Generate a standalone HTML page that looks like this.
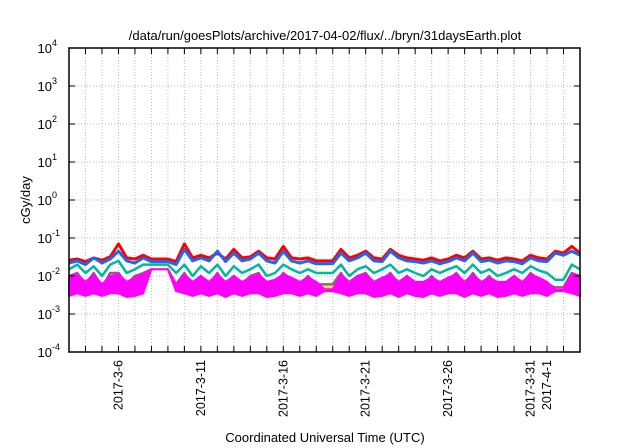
<!DOCTYPE html>
<html><head><meta charset="utf-8"><style>
html,body{margin:0;padding:0;background:#fff;}
svg{display:block;font-family:"Liberation Sans",sans-serif;}
</style></head><body>
<svg id="chart" width="640" height="448" viewBox="0 0 640 448" xmlns="http://www.w3.org/2000/svg">
<text x="325" y="40" font-size="13" text-anchor="middle">/data/run/goesPlots/archive/2017-04-02/flux/../bryn/31daysEarth.plot</text>
<text transform="translate(30,200) rotate(-90)" font-size="13" text-anchor="middle">cGy/day</text>
<text x="325" y="442" font-size="13" text-anchor="middle">Coordinated Universal Time (UTC)</text>
<g id="grid"></g><g id="series"></g><g id="axes"></g>
</svg>
<script>
const dateLabels=["2017-3-6","2017-3-11","2017-3-16","2017-3-21","2017-3-26","2017-3-31","2017-4-1"];
const dateDays=[3,8,13,18,23,28,29];
const decadeExps=[-4,-3,-2,-1,0,1,2,3,4];
const red=[.026,.028,.024,.03,.026,.032,.07,.03,.028,
.035,.028,.028,.028,.024,.07,.03,.035,.03,
.04,.028,.05,.03,.032,.045,.03,.028,.06,
.03,.028,.03,.025,.025,.025,.05,.03,.035,
.045,.03,.028,.05,.035,.03,.028,.026,.03,
.025,.028,.035,.03,.045,.028,.03,.026,.03,
.028,.025,.035,.03,.028,.045,.04,.06,.04];
const blue=[.022,.025,.02,.03,.022,.028,.045,.025,.022,
.03,.024,.024,.024,.02,.05,.025,.03,.025,
.045,.024,.04,.025,.028,.04,.025,.022,.045,
.025,.022,.025,.021,.021,.021,.04,.025,.03,
.04,.025,.024,.045,.03,.025,.024,.022,.025,
.021,.024,.03,.025,.04,.024,.026,.022,.025,
.024,.021,.03,.025,.024,.04,.035,.045,.035];
const teal=[.015,.02,.012,.018,.01,.02,.025,.012,.015,
.02,.02,.02,.02,.012,.02,.01,.018,.012,
.02,.01,.018,.012,.015,.02,.01,.012,.02,
.015,.012,.015,.012,.012,.012,.02,.01,.015,
.018,.012,.015,.02,.012,.015,.012,.01,.015,
.012,.015,.018,.012,.02,.012,.015,.01,.012,
.015,.012,.018,.014,.012,.008,.008,.02,.015];
const gray=[.01,.012,.006,.012,.005,.012,.012,.006,.01,
.012,.015,.015,.015,.006,.012,.005,.01,.006,
.012,.005,.01,.006,.01,.012,.005,.006,.012,
.008,.006,.01,.006,.006,.006,.012,.005,.01,
.012,.006,.008,.012,.006,.01,.006,.005,.01,
.006,.008,.012,.006,.012,.006,.01,.005,.006,
.01,.006,.012,.008,.006,.005,.005,.012,.01];
const yellow=[.006,.008,.005,.007,.0045,.008,.007,.005,.006,
.008,.015,.015,.015,.0045,.008,.0045,.006,.005,
.008,.0045,.006,.005,.006,.008,.0045,.005,.008,
.006,.005,.006,.005,.005,.005,.008,.0045,.006,
.008,.005,.006,.008,.005,.006,.005,.0045,.006,
.005,.006,.008,.005,.008,.005,.006,.0045,.005,
.006,.005,.008,.006,.005,.0045,.0045,.008,.006];
const magHigh=[.009,.011,.007,.011,.006,.01,.011,.007,.009,
.011,.015,.015,.015,.006,.011,.007,.01,.007,
.011,.007,.01,.007,.009,.011,.007,.008,.011,
.009,.007,.009,.007,.0045,.0045,.011,.007,.01,
.011,.007,.009,.011,.007,.01,.007,.007,.009,
.007,.009,.011,.007,.011,.007,.009,.007,.007,
.01,.007,.011,.009,.007,.0045,.0045,.011,.01];
const magLow=[.003,.0035,.003,.0035,.003,.0035,.0035,.0028,.003,
.0035,.015,.015,.015,.004,.0035,.003,.0035,.003,
.0035,.0028,.0035,.003,.0035,.0035,.0028,.003,.0035,
.0035,.003,.0035,.003,.004,.004,.0035,.003,.0035,
.0035,.0028,.003,.0035,.0028,.0035,.003,.0028,.0035,
.003,.0035,.0035,.0028,.0035,.003,.0035,.0028,.003,
.0035,.003,.0035,.0035,.003,.004,.004,.0035,.003];
const NS="http://www.w3.org/2000/svg";
const L=69,R=580,T=48,B=352,TOTAL_DAYS=31;
function xScale(d){return L+d*(R-L)/TOTAL_DAYS;}
function yScale(v){return T+(4-Math.log10(v))*(B-T)/8;}
function mk(tag,attrs,parent){const e=document.createElementNS(NS,tag);for(const k in attrs)e.setAttribute(k,attrs[k]);parent.appendChild(e);return e;}
const grid=document.getElementById('grid'),axes=document.getElementById('axes'),ser=document.getElementById('series');
for(let d=1;d<TOTAL_DAYS;d++){
 const x=xScale(d);
 const g=mk('line',{x1:x,x2:x,y1:T,y2:B,stroke:'#bbb','stroke-width':1,'stroke-dasharray':'1,2'},grid);
 
 
 const t1=mk('line',{x1:x,x2:x,y1:B,y2:B-6,stroke:'#000','stroke-width':1},axes);
 
 
 const t2=mk('line',{x1:x,x2:x,y1:T,y2:T+6,stroke:'#000','stroke-width':1},axes);
 
 
}
decadeExps.forEach(e=>{
 const y=yScale(Math.pow(10,e));
 if(e>-4&&e<4){
  const g=mk('line',{x1:L,x2:R,y1:y,y2:y,stroke:'#bbb','stroke-width':1,'stroke-dasharray':'1,2'},grid);
  
  
  const t=mk('line',{x1:L,x2:L+6,y1:y,y2:y,stroke:'#000'},axes);
  
  
  const t2=mk('line',{x1:R,x2:R-6,y1:y,y2:y,stroke:'#000'},axes);
  
  
 }
 const tx=mk('text',{x:52,y:y+5,'font-size':13,'text-anchor':'end'},axes);
 
 
 tx.textContent='10';
 const sp=mk('text',{x:52,y:y-2,'font-size':9,'text-anchor':'start'},axes);
 
 
 sp.textContent=String(e);
});
dateLabels.forEach((lab,i)=>{
 const x=xScale(dateDays[i]);
 const t=mk('text',{transform:`translate(${x+4},360) rotate(-90)`,'font-size':12.5,'text-anchor':'end'},axes);
 
 
 t.textContent=lab;
});
function xi(i,n){return xScale(i*TOTAL_DAYS/(n-1));}
function line(arr,color,name,w){
 const pts=arr.map((v,i)=>xi(i,arr.length).toFixed(1)+','+yScale(v).toFixed(1)).join(' ');
 const p=mk('polyline',{points:pts,fill:'none',stroke:color,'stroke-width':w,'stroke-linejoin':'round'},ser);
 
 
}
line(red,'#ff0000','series-red',3);
line(teal,'#00b89a','series-teal',2.5);
line(gray,'#9a5a86','series-gray',2.5);
line(yellow,'#f0f000','series-yellow',2.5);
{
 const up=magHigh.map((v,i)=>xi(i,magHigh.length).toFixed(1)+','+yScale(v).toFixed(1));
 const dn=magLow.map((v,i)=>xi(i,magLow.length).toFixed(1)+','+yScale(v).toFixed(1)).reverse();
 const p=mk('polygon',{points:up.concat(dn).join(' '),fill:'#ff00ff',stroke:'#ff00ff','stroke-width':2,'stroke-linejoin':'round'},ser);
 
 
}
line(blue,'#2266ee','series-blue',3);
const fr=mk('rect',{x:L,y:T,width:R-L,height:B-T,fill:'none',stroke:'#000','stroke-width':1.5},axes);


</script>
</body></html>
